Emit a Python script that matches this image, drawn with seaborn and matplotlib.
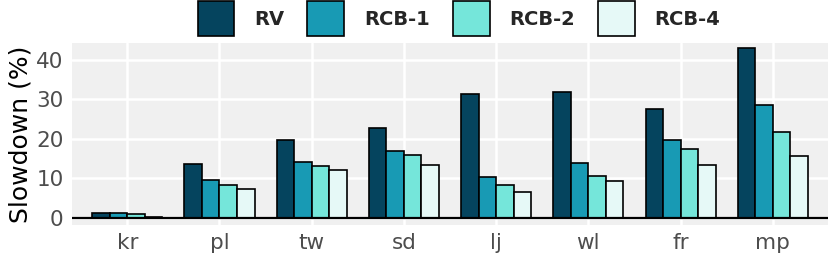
import pandas as pd
import seaborn as sns
import matplotlib.pyplot as plt

# Datos
apps = ["kr", "pl", "tw", "sd", "lj", "wl", "fr", "mp"]
esquemas = ["RV", "RCB-1", "RCB-2", "RCB-4"]
rv = [1.3, 13.6, 19.7, 22.8, 31.2, 31.7, 27.5, 42.9]
rcb1 = [1.2, 9.7, 14.2, 17.0, 10.4, 13.8, 19.7, 28.6]
rcb2 = [1.0, 8.2, 13.0, 15.8, 8.2, 10.6, 17.5, 21.7]
rcb4 = [0.2, 7.4, 12.0, 13.4, 6.6, 9.2, 13.4, 15.7]
colores = ["#05445E", "#189AB4", "#75E6DA", "#E6F9F7"]

df = pd.DataFrame({"app": apps, "RV": rv, "RCB-1": rcb1, "RCB-2": rcb2, "RCB-4": rcb4})
df = df.melt(id_vars="app", var_name="esquema", value_name="slowdown")

sns.set_theme(style="darkgrid", rc={"axes.facecolor": "#F0F0F0", "grid.color": "white",
                                     "grid.linewidth": 1.8})
plt.rcParams["font.family"] = ["DejaVu Sans"]

fig = plt.figure(figsize=(8.3, 2.65), dpi=100)
ax = fig.add_axes([0.0867, 0.151, 0.911, 0.688])

sns.barplot(data=df, x="app", y="slowdown", hue="esquema", hue_order=esquemas,
            order=apps, palette=colores, width=0.76, gap=0, edgecolor="black",
            linewidth=1.2, saturation=1, ax=ax, zorder=3)
ax.axhline(0, color="black", linewidth=1.6, zorder=4)

ax.set_xlim(-0.6, 7.6)
ax.set_ylim(-1.8, 44.3)
ax.set_yticks([0, 10, 20, 30, 40])
ax.grid(True, axis="both", color="white", linewidth=1.8)
ax.set_axisbelow(True)
ax.set_xlabel("")
ax.set_ylabel("Slowdown (%)", fontsize=18, color="black", labelpad=3)
ax.tick_params(axis="both", labelsize=15.5, labelcolor="#4D4D4D", length=0, pad=6)
for s in ax.spines.values():
    s.set_visible(False)

leg = ax.legend(loc="center", bbox_to_anchor=(0.553, 0.93), bbox_transform=fig.transFigure,
                ncol=4, frameon=False, prop={"weight": "bold", "size": 14},
                handlelength=1.9, handleheight=2.4, handletextpad=1.0, columnspacing=1.2)

plt.savefig("out.png", dpi=100)
